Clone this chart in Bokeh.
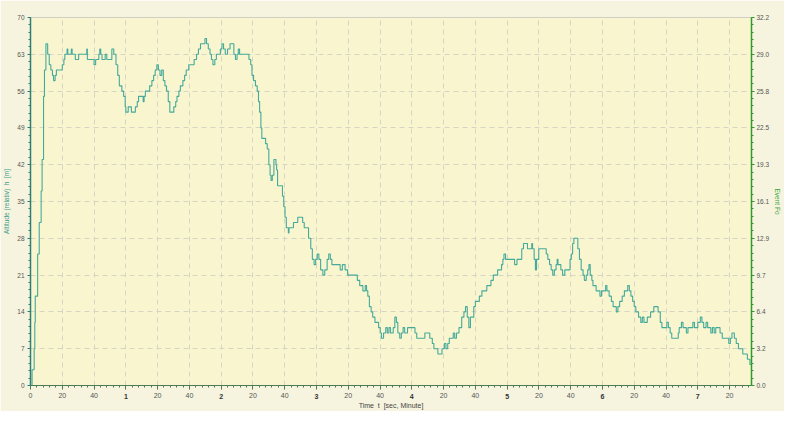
from bokeh.plotting import figure
from bokeh.models import LinearAxis, Range1d, FixedTicker, NumeralTickFormatter
from bokeh.embed import file_html
from bokeh.resources import INLINE

# ---- data: relative altitude [m] over time [s] ----
time_s = [0, 1, 2.3, 2.7, 3.0, 4.5, 5.5, 6.7, 7.3, 8.2, 8.8, 9.7, 10.8, 11.8, 12.8, 13.8, 14.5, 15.5, 16.3,
          20, 21, 21.6, 23, 23.5, 25.7, 26.2, 28.2, 30.3, 35.4, 35.8, 40, 41, 43, 43.6, 44.2, 45, 47, 48,
          51.2, 52.4, 53.8, 54.9, 55.9, 57.5, 58.6, 59.6, 60, 61.5, 63.5, 66, 67.2, 68, 70.9, 71.5, 72.3,
          75, 76.4, 77.5, 78.5, 79.5, 80.5, 81.5, 82.6, 83.6, 84.6, 85.6, 86.7, 87.7, 90.2, 91.4, 92.2,
          93.4, 94.3, 95.9, 97, 98, 99.6, 103, 104.5, 105.7, 107, 109.8, 110.8, 111.9, 113, 113.9, 114.8,
          116, 117, 119.5, 120.5, 121.5, 122.6, 124, 125.6, 128, 129, 130, 130.8, 131.6, 137.5, 138.6,
          139.4, 140.4, 141.6, 142.7, 143.5,
          144.2, 145, 145.6, 148, 149, 150, 150.8, 151.4, 152.2, 153.2, 154.5, 154.9, 155.5, 158.6, 159.4,
          160.2, 161, 162.3, 162.7, 165.5, 168.2, 171.3, 172.3, 175, 176.4, 177.4, 178.5, 179.5, 180.5,
          181.5, 182.6, 184, 185.2, 186.7, 187.7, 188.7, 189.7, 194.9, 196.3, 198, 199.6, 205.7, 207.2,
          209.2, 210.7, 211.5, 212.3, 213.3, 214.4, 215.4, 216.8, 219.1, 220.1, 220.9, 222.2, 223.6, 224.6,
          225.6, 226.6, 228.3, 229.3, 230.3, 231.2, 232.4, 233.4, 234.5, 235.5, 237.3, 242, 243.1, 248.2,
          251.3, 252.9, 253.9, 256.4, 259, 260.5, 261.5, 262.6, 263.6, 266.1, 267, 268.1, 269.7, 271.4,
          272.8, 273.8, 274.9, 275.9, 276.9, 279, 280, 282.5, 284.1, 287.2, 289.8, 291.3, 294,
          296.5, 297.3, 298, 299, 304.7, 306.2, 309.2, 310.3, 312.8, 315.5, 316, 317, 317.8, 318.5, 319.9,
          324.6, 325.6, 326.7, 327.7, 328.7, 329.7, 330.8, 331.5, 332, 333.8, 334.9, 336.3, 339.6, 340.4,
          341.2, 342, 344.5, 345.5, 346.6, 347.8, 348.6, 349.8, 350.7, 351.5, 352.3, 353.3, 354, 356,
          358.4, 359.4, 362, 362.8, 364.2, 365.6, 366.7, 368.7, 369.7, 370.8, 372.4, 373.8, 375.9, 376.9,
          377.9, 379, 380, 381, 382.7, 384.1, 385.1, 386.1, 388.2, 390.3, 392.3, 395, 396.4, 397.4, 400.5,
          401.5, 402.6, 403.6, 407.7, 408.3, 409.7, 410.7, 412.8, 413.8, 416.9, 417.9, 420, 421.6, 422.6,
          423.7, 425.2, 426.2, 428.2, 429.2, 430.3, 431.3, 434, 435.4, 439.5, 440.5, 441.5, 443, 444.2,
          445.6, 448.3, 449.7, 451.2, 452.8, 453.5]
altitude_m = [0, 3, 7, 12, 17, 25, 31, 37, 43, 55, 60, 65, 63, 61, 60, 59, 58, 59, 60,
              61, 62, 63, 64, 63, 64, 63, 62, 63, 64, 62, 61, 62, 63, 64, 63, 62, 63, 62,
              64, 63, 61, 59, 57, 56, 55, 53, 52, 53, 52, 53, 54, 55, 54, 55, 56,
              57, 58, 59, 60, 61, 60, 59, 60, 58, 57, 56, 54, 52, 53, 54, 55,
              56, 57, 58, 59, 60, 61, 62, 63, 64, 65, 66, 65, 64, 63, 62, 61,
              62, 63, 64, 65, 64, 63, 64, 65, 63, 62, 63, 64, 63, 62, 61,
              59, 58, 57, 56, 54,
              52, 49, 47, 46, 45, 42, 40, 39, 40, 43, 42, 41, 38, 36, 34,
              32, 30, 29, 30, 31, 32, 31, 30, 28, 26, 24, 23, 24, 25,
              24, 22, 21, 22, 24, 25, 24, 23, 22, 23, 22, 21, 20, 19,
              18, 19, 18, 17, 15, 14, 13, 12, 11, 10, 9, 10, 11, 10,
              11, 10, 11, 13, 12, 10, 9, 10, 11, 10, 11, 10, 9, 10,
              9, 8, 7, 6, 7, 8, 7, 8, 9, 10, 9, 10, 11, 13,
              14, 15, 13, 11, 13, 15, 16, 17, 18, 19, 20, 21, 22,
              23, 24, 25, 24, 23, 24, 26, 27, 26, 27, 26, 24, 22, 24, 26,
              25, 24, 23, 22, 21, 22, 23, 24, 23, 22, 21, 22, 24, 25,
              27, 28, 26, 24, 22, 21, 20, 21, 22, 23, 21, 20, 19, 18,
              17, 18, 19, 18, 17, 16, 15, 14, 15, 16, 17, 18, 19, 18,
              17, 16, 15, 14, 13, 12, 13, 12, 13, 14, 15, 14, 12, 11, 12,
              11, 10, 9, 10, 11, 12, 11, 10, 11, 12, 11, 12, 13, 12,
              11, 12, 11, 10, 11, 10, 11, 10, 9, 8, 9, 10, 9, 8,
              7, 6, 6, 5, 4, 4]

x_major_ticks = list(range(0, 454, 20))
x_tick_labels = {t: ("" if (t % 60 == 0 and t > 0) else str(t % 60)) for t in x_major_ticks}
minute_ticks = [60, 120, 180, 240, 300, 360, 420]
minute_labels = ["1", "2", "3", "4", "5", "6", "7"]
left_ticks = [0, 7, 14, 21, 28, 35, 42, 49, 56, 63, 70]
right_max = 32.2
right_ticks = [i * right_max / 10 for i in range(11)]

FONT = "Liberation Sans"
TICK_COLOR = "#555555"
LINE_COLOR = "#45aa9a"

p = figure(width=784, height=411, output_backend="svg", toolbar_location=None,
           x_range=Range1d(0, 453.8), y_range=Range1d(0, 70),
           min_border_left=20, min_border_right=20, min_border_top=17, min_border_bottom=20)
p.background_fill_color = "#f8f5cf"
p.border_fill_color = "#f6f4df"
p.outline_line_color = "#cfcfc4"

p.step(time_s, altitude_m, mode="after", line_color=LINE_COLOR, line_width=1.1)

# x axis (seconds)
xa = p.xaxis[0]
xa.ticker = FixedTicker(ticks=x_major_ticks, minor_ticks=list(range(0, 454, 4)))
xa.major_label_overrides = x_tick_labels
xa.axis_line_color = "#4b7a55"
xa.major_tick_line_color = "#4b7a55"
xa.minor_tick_line_color = "#4b7a55"
xa.major_tick_out = 4
xa.major_tick_in = 0
xa.minor_tick_out = 2
xa.minor_tick_in = 0
xa.major_label_standoff = 3
xa.major_label_text_font = FONT
xa.major_label_text_font_size = "7px"
xa.major_label_text_color = TICK_COLOR
xa.axis_label = "Time\u00a0\u00a0t\u00a0\u00a0[sec, Minute]"
xa.axis_label_text_font = FONT
xa.axis_label_text_font_size = "7px"
xa.axis_label_text_font_style = "normal"
xa.axis_label_text_color = "#444444"
xa.axis_label_standoff = 1

# bold minute labels: second axis without line/ticks, pulled up into the tick-label row
ma = LinearAxis(ticker=FixedTicker(ticks=minute_ticks, minor_ticks=[]),
                major_label_overrides={m: lab for m, lab in zip(minute_ticks, minute_labels)})
ma.axis_line_color = None
ma.major_tick_line_color = None
ma.minor_tick_line_color = None
ma.major_tick_out = 0
ma.major_tick_in = 0
ma.major_label_standoff = -18
ma.major_label_text_font = FONT
ma.major_label_text_font_size = "7px"
ma.major_label_text_font_style = "bold"
ma.major_label_text_color = "#333333"
p.add_layout(ma, "below")

# left y axis
ya = p.yaxis[0]
ya.ticker = FixedTicker(ticks=left_ticks, minor_ticks=[i * 1.4 for i in range(51)])
ya.axis_label = "Altitude (relativ)\u00a0\u00a0h\u00a0\u00a0[m]"
ya.axis_label_text_font = FONT
ya.axis_label_text_font_size = "6.5px"
ya.axis_label_text_font_style = "normal"
ya.axis_label_text_color = "#3a9a8c"
ya.axis_label_standoff = 4
ya.axis_line_color = "#2f7f72"
ya.axis_line_width = 1.5
ya.major_tick_line_color = "#2f7f72"
ya.minor_tick_line_color = "#2f7f72"
ya.major_tick_out = 3
ya.major_tick_in = 0
ya.minor_tick_out = 2
ya.minor_tick_in = 0
ya.major_label_standoff = 3
ya.major_label_text_font = FONT
ya.major_label_text_font_size = "6.5px"
ya.major_label_text_color = TICK_COLOR

# right y axis
p.extra_y_ranges = {"right": Range1d(0, right_max)}
ra = LinearAxis(y_range_name="right")
ra.ticker = FixedTicker(ticks=right_ticks, minor_ticks=[i * right_max / 50 for i in range(51)])
ra.formatter = NumeralTickFormatter(format="0.0")
ra.axis_label = "Event Fo"
ra.axis_label_text_font = FONT
ra.axis_label_text_font_size = "6.5px"
ra.axis_label_text_font_style = "normal"
ra.axis_label_text_color = "#3aa83a"
ra.axis_label_standoff = 2
ra.axis_line_color = "#2e9a2e"
ra.axis_line_width = 1.5
ra.major_tick_line_color = "#2e9a2e"
ra.minor_tick_line_color = "#2e9a2e"
ra.major_tick_out = 3
ra.major_tick_in = 0
ra.minor_tick_out = 2
ra.minor_tick_in = 0
ra.major_label_standoff = 2
ra.major_label_text_font = FONT
ra.major_label_text_font_size = "6.5px"
ra.major_label_text_color = TICK_COLOR
p.add_layout(ra, "right")

# grids
p.xgrid.ticker = FixedTicker(ticks=x_major_ticks)
p.ygrid.ticker = FixedTicker(ticks=left_ticks)
for g in (p.xgrid[0], p.ygrid[0]):
    g.grid_line_color = "#d6d4c4"
    g.grid_line_dash = "5 4"
    g.grid_line_width = 1

open("out.html", "w").write(file_html(p, INLINE))
